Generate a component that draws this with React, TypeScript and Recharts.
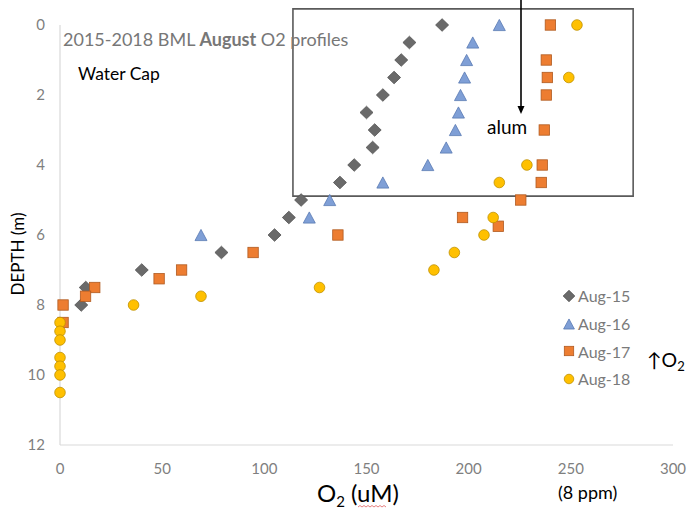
import React from "react";
import {
  ScatterChart,
  Scatter,
  XAxis,
  YAxis,
  ReferenceArea,
} from "recharts";

// ---- data (O2 in uM, depth in m) ----
const aug15 = [
  { o2: 187, depth: 0 }, { o2: 171, depth: 0.5 }, { o2: 167, depth: 1 },
  { o2: 163.5, depth: 1.5 }, { o2: 158, depth: 2 }, { o2: 150, depth: 2.5 },
  { o2: 154, depth: 3 }, { o2: 153, depth: 3.5 }, { o2: 144, depth: 4 },
  { o2: 137, depth: 4.5 }, { o2: 118, depth: 5 }, { o2: 112, depth: 5.5 },
  { o2: 105, depth: 6 }, { o2: 79, depth: 6.5 }, { o2: 40, depth: 7 },
  { o2: 12.6, depth: 7.5 }, { o2: 10.4, depth: 8 },
];
const aug16 = [
  { o2: 215, depth: 0 }, { o2: 202, depth: 0.5 }, { o2: 199, depth: 1 },
  { o2: 198, depth: 1.5 }, { o2: 196, depth: 2 }, { o2: 195, depth: 2.5 },
  { o2: 193.5, depth: 3 }, { o2: 189, depth: 3.5 }, { o2: 180, depth: 4 },
  { o2: 158, depth: 4.5 }, { o2: 132, depth: 5 }, { o2: 122, depth: 5.5 },
  { o2: 69, depth: 6 },
];
const aug17 = [
  { o2: 240, depth: 0 }, { o2: 238, depth: 1 }, { o2: 238.5, depth: 1.5 },
  { o2: 238, depth: 2 }, { o2: 237, depth: 3 }, { o2: 236, depth: 4 },
  { o2: 235.5, depth: 4.5 }, { o2: 225.5, depth: 5 }, { o2: 197, depth: 5.5 },
  { o2: 214.5, depth: 5.75 }, { o2: 136, depth: 6 }, { o2: 94.5, depth: 6.5 },
  { o2: 59.5, depth: 7 }, { o2: 48.5, depth: 7.25 }, { o2: 17, depth: 7.5 },
  { o2: 12.5, depth: 7.75 }, { o2: 1.5, depth: 8 }, { o2: 1.5, depth: 8.5 },
];
const aug18 = [
  { o2: 253, depth: 0 }, { o2: 249, depth: 1.5 }, { o2: 228.5, depth: 4 },
  { o2: 215, depth: 4.5 }, { o2: 212, depth: 5.5 }, { o2: 207.5, depth: 6 },
  { o2: 193, depth: 6.5 }, { o2: 183, depth: 7 }, { o2: 127, depth: 7.5 },
  { o2: 69, depth: 7.75 }, { o2: 36, depth: 8 }, { o2: 0, depth: 8.5 },
  { o2: 0, depth: 8.75 }, { o2: 0, depth: 9 }, { o2: 0, depth: 9.5 },
  { o2: 0, depth: 9.75 }, { o2: 0, depth: 10 }, { o2: 0, depth: 10.5 },
];

const xTicks = [0, 50, 100, 150, 200, 250, 300];
const yTicks = [0, 2, 4, 6, 8, 10, 12];
const seriesNames = ["Aug-15", "Aug-16", "Aug-17", "Aug-18"];
const alumBox = { x1: 114, x2: 280.5, y1: -0.46, y2: 4.89 };

const FONT = "Lato, 'Open Sans', sans-serif";

type Kind = "diamond" | "triangle" | "square" | "circle";
const styles: Record<Kind, { fill: string; stroke: string }> = {
  diamond: { fill: "#6a6a6a", stroke: "#525252" },
  triangle: { fill: "#7f9fd6", stroke: "#5878b2" },
  square: { fill: "#ed7d31", stroke: "#b05a20" },
  circle: { fill: "#ffc000", stroke: "#bf9000" },
};

function Marker({ kind, cx, cy, s = 1 }: { kind: Kind; cx: number; cy: number; s?: number }) {
  const st = styles[kind];
  const common = { fill: st.fill, stroke: st.stroke, strokeWidth: 0.8 };
  if (kind === "diamond") {
    const w = 6.5 * s, h = 6.3 * s;
    return <polygon points={`${cx},${cy - h} ${cx + w},${cy} ${cx},${cy + h} ${cx - w},${cy}`} {...common} />;
  }
  if (kind === "triangle") {
    const w = 6 * s, h = 5.6 * s;
    return <polygon points={`${cx},${cy - h} ${cx + w},${cy + h} ${cx - w},${cy + h}`} {...common} />;
  }
  if (kind === "square") {
    const h = 5.2 * s;
    return <rect x={cx - h} y={cy - h} width={2 * h} height={2 * h} {...common} />;
  }
  return <circle cx={cx} cy={cy} r={5.3 * s} {...common} />;
}

const mk = (kind: Kind) => (p: any) => <Marker kind={kind} cx={p.cx} cy={p.cy} />;

const kinds: Kind[] = ["diamond", "triangle", "square", "circle"];

function LegendContent() {
  return (
    <div style={{ position: "absolute", left: 562, top: 282, width: 90, fontFamily: FONT }}>
      {seriesNames.map((n, i) => (
        <div key={n} style={{ display: "flex", alignItems: "center", height: 27.7 }}>
          <svg width={14} height={14} style={{ display: "block" }}>
            <Marker kind={kinds[i]} cx={7} cy={7} s={0.9} />
          </svg>
          <span style={{ color: "#7a7a7a", fontSize: 16, marginLeft: 2 }}>{n}</span>
        </div>
      ))}
    </div>
  );
}

export default function App() {
  return (
    <div style={{ position: "absolute", left: 0, top: 0, width: 689, height: 512, background: "#fff" }}>
      <ScatterChart width={689} height={512} margin={{ top: 25, right: 16, bottom: 0, left: 0 }}>
        <XAxis
          type="number"
          dataKey="o2"
          domain={[0, 300]}
          ticks={xTicks}
          height={67}
          axisLine={{ stroke: "#d9d9d9", strokeWidth: 1.2 }}
          tickLine={false}
          tickSize={6}
          tickMargin={12}
          tick={{ fill: "#7f7f7f", fontSize: 15, fontFamily: FONT }}
        />
        <YAxis
          type="number"
          dataKey="depth"
          domain={[0, 12]}
          ticks={yTicks}
          reversed
          width={60}
          axisLine={{ stroke: "#d9d9d9", strokeWidth: 1.2 }}
          tickLine={false}
          tickSize={6}
          tickMargin={9}
          tick={{ fill: "#7f7f7f", fontSize: 15, fontFamily: FONT }}
        />
        <ReferenceArea
          x1={alumBox.x1}
          x2={alumBox.x2}
          y1={alumBox.y1}
          y2={alumBox.y2}
          ifOverflow="visible"
          fill="none"
          fillOpacity={0}
          stroke="#5a5a5a"
          strokeWidth={1.6}
        />
        <Scatter name={seriesNames[0]} data={aug15} shape={mk("diamond")} isAnimationActive={false} />
        <Scatter name={seriesNames[1]} data={aug16} shape={mk("triangle")} isAnimationActive={false} />
        <Scatter name={seriesNames[2]} data={aug17} shape={mk("square")} isAnimationActive={false} />
        <Scatter name={seriesNames[3]} data={aug18} shape={mk("circle")} isAnimationActive={false} />
      </ScatterChart>
      <LegendContent />
      <svg
        width={689}
        height={512}
        style={{ position: "absolute", left: 0, top: 0, pointerEvents: "none" }}
      >
        <text x={63} y={46} fontFamily={FONT} fontSize={18} fill="#777">
          2015-2018 BML <tspan fontWeight="bold">August</tspan> O2 profiles
        </text>
        <text x={78} y={80} fontFamily={FONT} fontSize={17.5} fill="#000">Water Cap</text>
        <line x1={521} y1={0} x2={521} y2={110} stroke="#000" strokeWidth={1.6} />
        <path d="M517.5,106 L521,114 L524.5,106 Z" fill="#000" />
        <text x={487} y={134} fontFamily={FONT} fontSize={19} fill="#000">alum</text>
        <text
          x={0}
          y={0}
          transform="translate(24,254) rotate(-90)"
          textAnchor="middle"
          fontFamily={FONT}
          fontSize={17}
          fill="#000"
        >
          DEPTH (m)
        </text>
        <text x={317} y={502} fontFamily={FONT} fontSize={24} fill="#000">
          O<tspan fontSize={15} dy={5}>2</tspan><tspan dy={-5}> (uM)</tspan>
        </text>
        <path
          d="M358,507 l2,-1.5 l2,1.5 l2,-1.5 l2,1.5 l2,-1.5 l2,1.5 l2,-1.5 l2,1.5 l2,-1.5 l2,1.5 l2,-1.5 l2,1.5 l2,-1.5 l2,1.5"
          fill="none"
          stroke="#e06060"
          strokeWidth={0.8}
        />
        <text x={558} y={499} fontFamily={FONT} fontSize={18} fill="#000">(8 ppm)</text>
        <text x={647} y={367} fontFamily={FONT} fontSize={19.5} fill="#000">
          ↑O<tspan fontSize={13} dy={4}>2</tspan>
        </text>
      </svg>
    </div>
  );
}
